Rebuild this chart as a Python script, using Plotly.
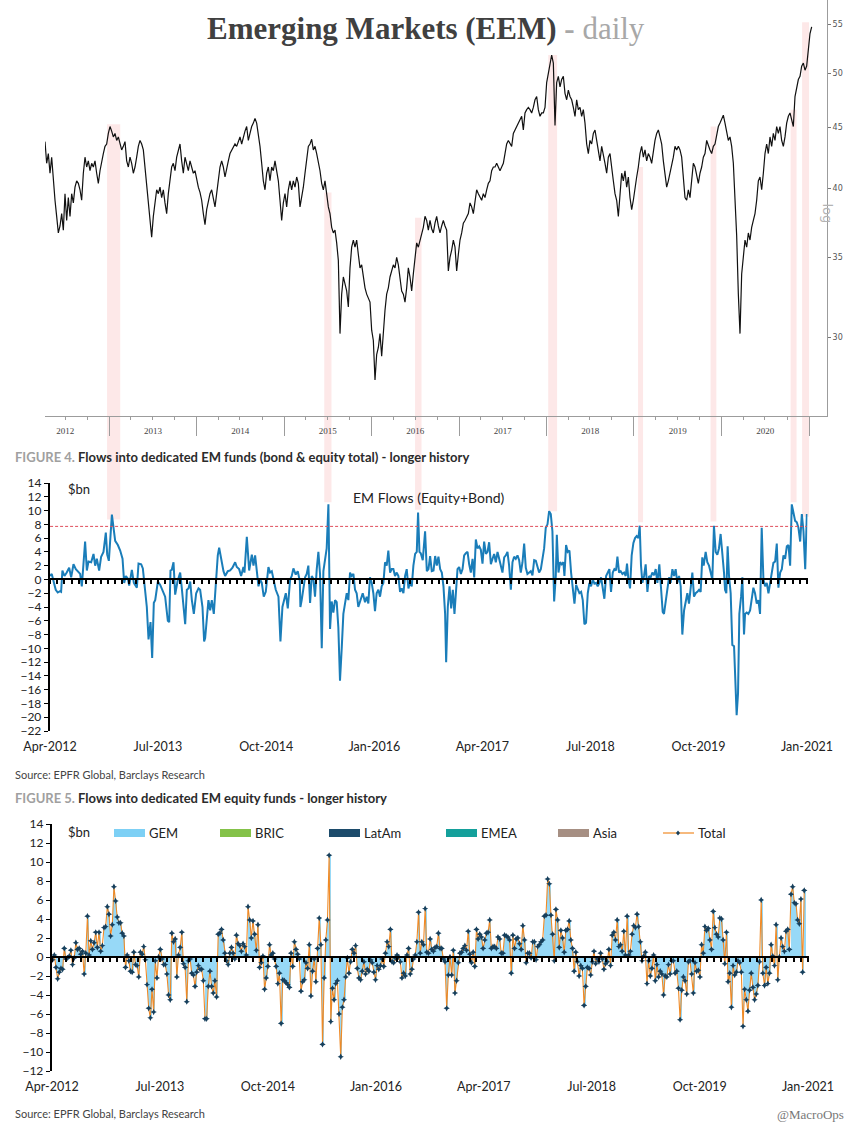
import numpy as np
import pandas as pd
import plotly.graph_objects as go

W, H = 851, 1127

# EEM, weekly closes (log scale)
eem_first, eem_last = "2012-04-08", "2021-01-12"
eem_close = [
    43.8, 42.0, 42.8, 41.2, 42.5, 40.6, 39.1, 37.9, 36.7, 37.2,
    38.1, 36.9, 39.6, 37.6, 39.3, 37.9, 39.6, 38.9, 40.1, 40.6,
    40.4, 39.9, 39.1, 41.2, 42.5, 41.7, 42.2, 41.4, 42.0, 41.7,
    42.2, 41.2, 40.4, 41.4, 42.2, 42.8, 43.4, 43.6, 44.5, 45.1,
    44.7, 44.2, 44.5, 43.9, 44.2, 43.6, 43.1, 43.4, 43.8, 42.2,
    41.7, 42.5, 42.0, 41.2, 41.7, 42.5, 43.4, 43.9, 43.6, 43.1,
    41.7, 40.6, 39.1, 37.6, 36.4, 37.9, 39.1, 39.9, 39.6, 40.1,
    39.3, 39.9, 38.9, 38.1, 39.6, 40.9, 41.7, 42.0, 41.4, 42.5,
    43.1, 43.6, 42.2, 41.2, 42.5, 42.0, 41.4, 42.2, 41.7, 41.2,
    41.4, 40.6, 40.1, 39.7, 39.1, 38.1, 37.3, 38.4, 39.1, 39.6,
    39.9, 39.1, 38.6, 39.6, 40.6, 41.7, 42.2, 41.7, 40.9, 41.7,
    42.2, 42.8, 43.1, 43.4, 43.6, 43.4, 43.9, 44.2, 43.6, 44.2,
    44.7, 45.1, 43.9, 44.5, 45.1, 45.4, 45.8, 45.4, 44.5, 43.4,
    42.0, 40.6, 39.9, 41.2, 41.7, 40.6, 41.7, 41.4, 42.2, 41.2,
    40.6, 39.1, 37.6, 38.9, 39.6, 38.6, 39.9, 40.6, 39.9, 40.6,
    40.1, 40.9, 40.4, 38.6, 39.3, 40.1, 41.2, 42.5, 43.4, 43.6,
    44.0, 43.1, 43.4, 42.8, 42.2, 41.4, 40.4, 39.9, 40.6, 39.6,
    38.6, 38.1, 37.1, 36.7, 36.9, 36.0, 34.8, 30.2, 32.6, 33.7,
    33.2, 32.8, 31.8, 34.3, 35.7, 36.2, 35.7, 36.2, 35.2, 34.3,
    34.5, 33.7, 33.0, 32.6, 32.3, 32.1, 30.4, 29.8, 27.6, 29.0,
    29.4, 30.2, 28.9, 30.4, 31.6, 32.6, 33.0, 33.7, 34.1, 34.5,
    34.3, 35.0, 34.5, 33.7, 32.8, 32.6, 32.1, 33.0, 34.3, 33.7,
    32.8, 33.9, 34.8, 36.0, 35.7, 36.2, 36.7, 37.1, 37.9, 37.6,
    36.9,
    37.6, 37.0, 36.7, 37.4, 37.9, 37.2, 36.7, 37.2, 37.6, 37.2,
    36.9, 34.1, 35.0, 35.5, 36.2, 35.7, 34.1, 35.2, 36.2, 36.7,
    37.4, 37.6, 37.9, 38.1, 38.9, 38.6, 38.1, 39.1, 39.9, 39.6,
    39.3, 39.1, 39.6, 39.3, 39.9, 40.4, 40.6, 41.4, 41.7, 41.7,
    42.0, 41.7, 41.4, 41.7, 42.0, 42.8, 43.6, 43.9, 43.6, 43.4,
    44.5, 44.8, 45.1, 45.4, 45.7, 46.0, 44.8, 46.3, 46.6, 46.8,
    46.6, 46.3, 46.8, 47.5, 47.8, 46.6, 46.0, 46.3, 46.3, 46.8,
    49.1, 50.0, 50.7, 51.8, 51.0, 45.2, 49.1, 49.7, 48.7, 49.4,
    49.7, 48.1, 47.5, 48.4, 47.8, 47.5, 46.8, 46.0, 47.5, 46.6,
    46.8, 46.0, 46.6, 45.4, 43.6, 42.8, 43.9, 43.6, 44.5, 44.8,
    43.9, 43.1, 42.2, 43.4, 42.5, 42.0, 41.2, 42.5, 42.8, 41.4,
    40.6, 39.6, 39.1, 37.9, 39.9, 41.2, 40.6, 41.4, 40.1, 40.9,
    39.3, 38.4, 39.1, 40.1, 40.9, 41.7, 42.8, 43.4, 42.5, 43.1,
    42.2, 42.8, 42.5, 42.0, 43.1, 43.9, 44.5, 44.8, 44.2, 43.6,
    42.2, 41.2, 40.1, 40.6, 41.2, 41.7, 42.5, 43.4, 43.1, 43.4,
    43.1, 42.5, 40.9, 39.3, 39.1, 39.9, 39.3, 40.6, 42.0, 41.7,
    40.9, 40.4, 41.2, 41.7, 42.5, 42.8, 43.9, 43.4, 43.1, 42.8,
    43.4, 43.6, 44.5, 45.1, 45.4, 45.7, 46.1, 45.4, 44.5, 43.9,
    44.2, 43.4, 42.0, 39.3, 36.5, 32.6, 30.2, 33.9, 35.2, 36.2,
    35.7, 36.7, 36.2, 37.1, 37.6, 38.1, 39.1, 40.6, 40.9, 39.9,
    41.2, 42.8, 43.6, 42.8, 44.2, 43.4, 44.5, 43.9, 45.1, 44.5,
    45.1, 43.9, 43.4, 44.2, 45.4, 46.0, 46.3, 45.7, 45.1, 47.8,
    48.7, 49.4, 49.7, 50.7, 51.0, 50.3, 50.7, 52.3, 54.0, 54.7,
]
eem_ticks = [30, 35, 40, 45, 50, 55]

# EM flows, equity + bond, $bn (x given as decimal years)
flow_year = [
    2012.250, 2012.269, 2012.315, 2012.338, 2012.365, 2012.377, 2012.392, 2012.416, 2012.442, 2012.470,
    2012.493, 2012.520, 2012.547, 2012.577, 2012.597, 2012.616, 2012.654, 2012.674, 2012.693, 2012.724,
    2012.751, 2012.770, 2012.789, 2012.816, 2012.839, 2012.866, 2012.893, 2012.909, 2012.928, 2012.963,
    2012.982, 2013.001, 2013.032, 2013.059, 2013.086, 2013.105, 2013.125, 2013.148, 2013.163, 2013.194,
    2013.217, 2013.252, 2013.271, 2013.302, 2013.321, 2013.340, 2013.367, 2013.387, 2013.410, 2013.429,
    2013.448, 2013.464, 2013.495, 2013.522, 2013.549, 2013.579, 2013.610, 2013.626, 2013.641, 2013.656,
    2013.676, 2013.695, 2013.722, 2013.753, 2013.772, 2013.811, 2013.830, 2013.849, 2013.869, 2013.888,
    2013.911, 2013.938, 2013.965, 2013.984, 2014.011, 2014.030, 2014.042, 2014.061, 2014.080, 2014.100,
    2014.119, 2014.142, 2014.158, 2014.188, 2014.204, 2014.227, 2014.254, 2014.273, 2014.304, 2014.331,
    2014.358, 2014.389, 2014.408, 2014.435, 2014.458, 2014.485, 2014.497, 2014.524, 2014.551, 2014.582,
    2014.601, 2014.620, 2014.639, 2014.659, 2014.678, 2014.697, 2014.720, 2014.743, 2014.774, 2014.793,
    2014.813, 2014.836, 2014.859, 2014.890, 2014.913, 2014.936, 2014.959, 2014.975, 2014.998, 2015.025,
    2015.044, 2015.063, 2015.090, 2015.113, 2015.137, 2015.144,
    2015.159, 2015.179, 2015.198, 2015.217, 2015.236, 2015.256, 2015.275, 2015.294, 2015.313, 2015.333,
    2015.352, 2015.371, 2015.391, 2015.410, 2015.429, 2015.448, 2015.468, 2015.487, 2015.506, 2015.525,
    2015.545, 2015.564, 2015.583, 2015.602, 2015.622, 2015.641, 2015.660, 2015.680, 2015.699, 2015.718,
    2015.737, 2015.757, 2015.776, 2015.795, 2015.814, 2015.841, 2015.865, 2015.892, 2015.911, 2015.930,
    2015.949, 2015.969, 2015.988, 2016.007, 2016.026, 2016.046, 2016.065, 2016.084, 2016.104, 2016.123,
    2016.142, 2016.161, 2016.181, 2016.200, 2016.219, 2016.238, 2016.258, 2016.277, 2016.296, 2016.315,
    2016.335, 2016.354, 2016.373, 2016.393, 2016.412, 2016.431, 2016.450, 2016.470, 2016.489, 2016.504,
    2016.520, 2016.535, 2016.558, 2016.585, 2016.605, 2016.624, 2016.643, 2016.662, 2016.682, 2016.701,
    2016.720, 2016.739, 2016.759, 2016.778, 2016.797, 2016.816, 2016.828, 2016.847, 2016.867, 2016.886,
    2016.905, 2016.924, 2016.944, 2016.959, 2016.978, 2016.998, 2017.017, 2017.036, 2017.055, 2017.075,
    2017.094, 2017.113, 2017.133, 2017.152, 2017.171, 2017.190, 2017.210, 2017.229, 2017.248, 2017.267,
    2017.287, 2017.306, 2017.325, 2017.345, 2017.364, 2017.383, 2017.402, 2017.422, 2017.441, 2017.460,
    2017.479, 2017.499, 2017.518, 2017.537, 2017.556, 2017.576, 2017.595, 2017.614, 2017.633, 2017.653,
    2017.672, 2017.691, 2017.711, 2017.730, 2017.749, 2017.768, 2017.788, 2017.807, 2017.826, 2017.846,
    2017.865, 2017.884, 2017.903, 2017.923, 2017.942, 2017.961, 2017.980, 2018.000, 2018.019, 2018.038,
    2018.057, 2018.077, 2018.096, 2018.108,
    2018.127, 2018.146, 2018.165, 2018.184, 2018.196, 2018.215, 2018.234, 2018.254, 2018.273, 2018.292,
    2018.312, 2018.331, 2018.350, 2018.369, 2018.389, 2018.408, 2018.427, 2018.446, 2018.466, 2018.485,
    2018.504, 2018.524, 2018.543, 2018.562, 2018.581, 2018.601, 2018.620, 2018.639, 2018.658, 2018.678,
    2018.697, 2018.716, 2018.735, 2018.755, 2018.774, 2018.793, 2018.809, 2018.828, 2018.847, 2018.867,
    2018.886, 2018.905, 2018.920, 2018.936, 2018.955, 2018.974, 2018.994, 2019.013, 2019.032, 2019.052,
    2019.067, 2019.082, 2019.098, 2019.117, 2019.136, 2019.156, 2019.175, 2019.194, 2019.213, 2019.233,
    2019.252, 2019.271, 2019.294, 2019.314, 2019.333, 2019.348, 2019.368, 2019.387, 2019.406, 2019.425,
    2019.445, 2019.464, 2019.483, 2019.502, 2019.522, 2019.541, 2019.560, 2019.580, 2019.599, 2019.618,
    2019.637, 2019.657, 2019.676, 2019.695, 2019.714, 2019.734, 2019.753, 2019.772, 2019.791, 2019.807,
    2019.830, 2019.849, 2019.869, 2019.888, 2019.907, 2019.926, 2019.946, 2019.965, 2019.984, 2020.003,
    2020.023, 2020.042, 2020.054, 2020.069, 2020.084, 2020.100, 2020.119, 2020.138, 2020.158, 2020.173,
    2020.188, 2020.204, 2020.219, 2020.239, 2020.254, 2020.273, 2020.285, 2020.304, 2020.323, 2020.343,
    2020.362, 2020.381, 2020.400, 2020.420, 2020.439, 2020.458, 2020.477, 2020.497, 2020.516, 2020.535,
    2020.555, 2020.574, 2020.593, 2020.612, 2020.632, 2020.651, 2020.670, 2020.690, 2020.709, 2020.728,
    2020.747, 2020.767, 2020.786, 2020.805, 2020.824, 2020.844, 2020.863, 2020.882, 2020.901, 2020.921,
    2020.940, 2020.959, 2020.979, 2020.998,
]
flow_bn = [
    0.5, 0.8, -1.5, -1.9, -1.7, -1.8, 1.3, 0.5, 1.0, 1.7,
    0.3, 2.2, 1.5, 1.0, 0.8, -1.0, 5.5, 1.3, 2.6, 2.5,
    3.7, 2.0, 3.0, 1.3, 3.3, 4.0, 6.8, 3.6, 2.7, 9.4,
    7.0, 5.6, 5.0, 4.2, 3.0, -0.5, 0.5, 0.1, -0.9, 1.4,
    -0.5, -1.2, 2.3, 2.2, 1.6, -1.0, -4.0, -8.7, -6.2, -11.4,
    -3.4, -3.0, -0.3, -0.8, -1.5, -2.5, -6.0, -6.2, 1.3, 1.4,
    2.5, -2.2, -0.3, 1.0, -1.3, -6.5, -1.5, -1.3, -0.3, -3.0,
    -5.0, -2.0, -1.3, -1.5, -4.0, -9.0, -8.5, -5.0, -3.0, -4.5,
    -3.0, -5.0, -2.0, 3.5, 4.6, 3.0, 1.2, 0.5, 1.2, 1.3,
    1.7, 2.5, 1.8, 1.5, 0.5, 1.8, 1.0, 6.2, 1.3, 3.6,
    2.0, 3.5, 1.0, -1.0, 0.0, -0.5, -2.5, -1.8, 1.8, 1.0,
    1.2, -0.3, -1.5, -2.5, -9.0, -4.0, -2.7, -2.0, -4.2, 0.0,
    0.5, 1.6, 0.7, 1.2, -0.2, -4.0,
    -3.0, -1.0, 0.3, 0.8, 2.0, -3.4, 0.5, 0.1, -2.5, 1.5,
    4.0, 0.8, -10.0, 1.2, 3.0, 4.5, 10.9, -7.2, -3.2, -4.8,
    -3.0, -3.3, -7.0, -14.7, -10.0, -5.0, -3.5, -2.0, -3.0, 1.0,
    0.5, 0.8, -1.5, -2.0, -4.0, -3.0, -2.0, -3.3, -2.5, -3.5,
    0.3, -0.5, -2.0, -4.6, -2.0, -1.5, -2.5, -1.0, -0.5, 2.5,
    2.0, 4.2, 1.0, 1.5, 1.5, 0.5, 1.0, 0.5, -1.8, -1.3,
    -2.0, 0.5, 1.5, -1.3, -0.3, -1.0, 2.0, 3.7, 4.0, 9.7,
    4.0, 3.8, 2.8, 7.0, 1.2, 1.5, 3.4, 1.2, 1.3, 3.4,
    2.0, 3.3, 1.5, 1.0, -1.0, -5.0, -12.0, -4.0, -1.0, -4.2,
    -1.5, -5.0, -2.0, 1.5, 1.8, 0.8, 1.5, 3.5, 3.8, 4.0,
    2.2, 1.0, 3.0, 0.3, 5.8, 4.5, 4.8, 4.3, 2.3, 5.5,
    3.7, 4.0, 5.4, 2.2, 3.0, 3.7, 2.5, 4.0, 3.0, 2.0,
    1.0, 3.2, 3.5, 4.0, 2.0, -1.5, 2.5, 3.3, 3.0, 3.5,
    2.8, 1.0, 2.5, 5.2, 1.7, 0.8, 1.0, 1.2, 0.6, 2.8,
    2.7, 2.0, 1.0, 1.5, 3.3, 4.5, 7.5, 8.0, 9.9, 9.5,
    7.0, -3.2, 0.5, 6.5,
    1.0, 2.5, 2.2, 2.5, 0.5, 5.0, 4.0, 4.2, 1.0, -1.0,
    -3.5, -0.8, -1.5, -2.0, -1.8, -3.0, -6.5, -6.3, -2.0, -0.5,
    -1.0, 0.0, -0.6, -0.5, -1.0, -0.5, 0.3, -1.0, -2.8, 0.5,
    1.0, 1.5, -1.8, 1.0, 1.5, 1.3, 3.3, 1.0, 1.2, 0.8,
    1.0, 0.5, 2.3, 0.0, -1.3, 3.5, 5.3, 6.0, 6.3, 6.0,
    7.8, 2.0, -0.5, 0.5, 2.2, -1.8, 0.5, 0.3, 1.0, 0.6,
    1.5, -0.5, 2.2, -2.0, -4.7, -5.0, -3.0, -1.5, 0.3, -0.5,
    1.5, 0.5, 1.5, -0.5, 0.5, -1.0, -8.0, -4.5, -3.0, -2.0,
    -3.5, -1.0, 1.0, -2.5, -2.0, -1.8, -1.5, -1.8, 3.2, 2.0,
    4.0, 2.5, 2.0, 1.0, 0.0, 7.8, 4.0, 3.6, 4.5, 6.6,
    4.0, 1.0, -1.5, -2.0, 4.8, 0.5, -2.0, -9.5, -9.7, -15.0,
    -19.7, -16.5, -5.0, -2.5, 0.3, -8.0, -5.0, -4.8, -5.0, -4.5,
    -2.5, -1.2, -2.0, -3.5, -3.0, -5.0, 7.5, 0.0, -1.0, -0.5,
    -2.0, -0.5, 0.5, 2.4, 2.6, 5.2, -1.2, 1.0, 1.5, 3.5,
    3.0, 4.8, 5.0, 2.0, 10.9, 9.8, 8.5, 8.3, 7.5, 5.5,
    9.5, 7.0, 1.5, 9.5,
]
flow_alert_level = 7.7

# EM equity fund flows, weekly, $bn
eq_first = "2012-04-04"
eq_total = [
    -0.3, 0.2, -1.1, -2.3, -1.6, -1.2, -1.3, 0.9, -0.2, -0.1,
    0.1, 0.7, -0.8, -0.1, 1.5, 0.8, 0.9, 0.3, 0.6, -1.8,
    0.4, 4.3, 0.2, 1.7, 0.8, 1.5, 2.6, 1.0, 2.6, 0.6,
    1.2, 3.1, 3.2, 5.3, 4.5, 2.2, 3.4, 7.4, 5.9, 4.2,
    3.6, 3.6, 2.5, 2.2, -1.1, 0.2, -0.4, -1.5, -1.6, 0.5,
    -0.8, -0.9, -2.1, 0.5, 0.3, 1.1, -0.3, -2.9, -5.4, -6.4,
    -3.4, -5.8, -0.4, -2.2, 0.0, 0.8, -0.2, -0.8, -0.8, -1.8,
    -4.0, -4.5, 2.5, 1.6, 1.9, -2.1, 0.2, 1.0, 2.6, -0.7,
    -1.1, -4.7, -0.4, -0.2, -1.7, -1.9, -3.1, -1.6, -0.9, -1.3,
    -1.3, -2.5, -6.5, -6.5, -3.1, -1.5, -3.1, -3.8, -2.5, -4.2,
    2.4, 2.5, 2.9, 1.8, 0.4, -0.4, -0.8, 0.4, 1.0, 0.4,
    -0.2, 2.3, 1.4, 1.2, 0.6, 1.4, 1.1, 0.2, 5.3, 3.9,
    2.0, 3.8, 2.4, 0.7, 3.4, -1.1, -0.6, 0.1, -3.4, -2.2,
    -1.0, 1.3, 0.2, 0.4, -0.2, -1.0, -2.8, -1.7, -7.0, -2.4,
    -2.5, -2.7, -2.9, -3.2, 0.4, -1.0, 1.6, 0.8, 0.3, -0.2,
    -3.6, -2.6,
    -2.4, -0.6, -1.2, 1.3, -4.1, -1.5, -0.2, -2.6, 0.9, 4.1,
    1.3, -9.2, -2.2, 1.8, 3.9, 10.7, -6.8, -3.3, -4.5, -2.8,
    -2.5, -6.0, -10.5, -5.3, -4.5, -2.1, -0.1, -1.7, -0.5, 0.8,
    0.4, 1.2, -1.2, -2.2, -2.4, -1.5, -0.5, -1.8, -1.3, -1.5,
    -0.3, -0.6, -1.6, -2.4, -0.9, -1.3, -0.9, -0.2, -1.0, 0.4,
    1.6, 1.1, 2.9, -0.5, -0.6, -0.1, 0.2, 0.0, -0.5, -2.2,
    -1.7, -2.0, 0.2, 0.9, -1.8, -1.3, -0.2, 0.2, 1.6, 4.7,
    0.4, 1.6, 1.3, 5.1, 0.5, 0.4, 1.9, 0.8, 0.6, 1.0,
    1.1, 2.5, 0.9, 0.9, -0.2, -0.5, -5.4, -1.9, 0.0, -1.9,
    0.7, -3.8, -2.5, -0.6, 0.4, 0.5, 0.9, 1.2, 0.7, 2.7,
    0.3, -0.6, 0.5, -1.0, 2.9, 1.9, 2.4, 2.1, 0.9, 1.8,
    2.5, 2.6, 3.9, 0.9, 1.1, 1.1, 0.9, 2.1, 1.9, 0.4,
    0.4, 2.3, 2.2, 2.1, 1.8, -1.7, 2.3, 0.9, 1.9, 2.0,
    1.4, 0.8, 3.3, 1.8, -0.6, 0.4, 0.4, -0.1, 1.6, 1.6,
    -0.3, 1.1, 1.3, 1.6, 1.8, 4.3, 4.4, 8.2, 7.7, 4.4,
    2.4, -0.4, 5.0, 3.9,
    1.0, 2.8, 2.0, 0.5, 2.8, 2.9, 3.8, 1.8, 0.9, -1.5,
    0.5, -0.5, -2.0, -0.9, -1.2, -5.1, -3.1, -1.1, -1.2, -1.9,
    -0.5, 0.6, -0.7, -0.2, -0.5, 0.4, -0.2, -1.3, -0.7, -0.5,
    0.8, -0.9, 2.3, 2.6, 1.8, 3.9, 1.1, 1.3, 0.6, 2.7,
    0.2, 4.3, 0.2, 0.6, 2.4, 3.3, 3.1, 4.5, 3.2, 1.6,
    -0.4, 0.1, 0.5, -2.8, -0.4, -2.0, -1.2, 0.2, -2.5, -0.8,
    -2.1, -1.5, -1.8, -4.0, -2.0, -2.1, -0.8, -1.8, -0.4, -0.4,
    -1.7, -1.5, -3.3, -6.6, -3.5, -2.1, -2.5, -3.9, -0.5, -0.4,
    -1.8, -3.8, -0.6, -1.5, -1.4, -2.1, 1.3, 0.4, 3.2, 2.8,
    3.0, 1.8, 0.8, 4.8, 3.1, 2.4, 2.1, 4.1, 4.0, 1.8,
    -0.7, 2.6, -2.6, -1.7, -5.3, -0.9, -1.9, -1.6, -0.4, -0.6,
    -1.6, -7.3, -3.4, -4.5, -5.7, -3.5, -1.7, -3.2, -4.5, -3.9,
    -3.0, -0.5, 6.0, -1.7, -3.0, -1.1, -2.8, -1.7, 1.3, 0.1,
    -0.9, 3.4, -2.4, 0.0, 2.0, 1.1, 0.6, 2.7, 2.9, 0.8,
    6.6, 7.4, 5.7, 5.6, 3.9, 3.5, 6.1, -1.6, 7.0,
]
# GEM funds make up nearly all of the bars; read at the same heights as the total
eq_gem = list(eq_total)

legend_names = ["GEM", "BRIC", "LatAm", "EMEA", "Asia"]
legend_colors = ["#7dd0f5", "#84c249", "#1c4b6b", "#14a09b", "#a68f83"]

# highlighted episodes: start, end, price where band starts, flow level where it ends
band_from = ["2012-12-23", "2015-06-18", "2016-07-01", "2018-01-08",
             "2019-01-18", "2019-11-17", "2020-10-16", "2020-12-03"]
band_to = ["2013-02-16", "2015-07-18", "2016-07-28", "2018-02-14",
           "2019-02-08", "2019-12-11", "2020-11-10", "2021-01-01"]
band_price = [45.3, 39.7, 37.8, 51.8, 41.7, 45.1, 46.6, 55.2]
band_flow = [8.7, 11.2, 10.1, 9.9, 8.3, 8.4, 11.2, 9.1]


def from_decimal_year(t):
    year = int(t)
    start = pd.Timestamp(year=year, month=1, day=1)
    days = (pd.Timestamp(year=year + 1, month=1, day=1) - start).days
    return start + pd.Timedelta(days=(t - year) * days)


def fx(px):
    return px / W


def fy(px):
    return 1 - px / H


eem_dates = pd.date_range(eem_first, eem_last, periods=len(eem_close))
flow_dates = [from_decimal_year(t) for t in flow_year]
eq_dates = pd.date_range(eq_first, periods=len(eq_total), freq="7D")

# layout geometry (pixels)
LOG_RANGE = [1.4107, 1.7606]
MID_RANGE = [-22, 14]
BOT_RANGE = [-12, 14]
top_dom = [fy(416), 1.0]
mid_dom = [fy(731), fy(483)]
bot_dom = [fy(1071), fy(824)]
mid_zero = mid_dom[0] + (0 - MID_RANGE[0]) / (MID_RANGE[1] - MID_RANGE[0]) * (mid_dom[1] - mid_dom[0])
bot_zero = bot_dom[0] + (0 - BOT_RANGE[0]) / (BOT_RANGE[1] - BOT_RANGE[0]) * (bot_dom[1] - bot_dom[0])
flow_range = ["2012-03-30", "2021-01-03"]

SANS = "Lato"
SERIF = "Liberation Serif"

fig = go.Figure()

fig.add_trace(go.Scatter(
    x=eem_dates, y=eem_close, mode="lines",
    line=dict(color="#111111", width=1.2),
    xaxis="x", yaxis="y", hoverinfo="skip",
))

fig.add_trace(go.Scatter(
    x=flow_dates, y=flow_bn, mode="lines",
    line=dict(color="#1a7db9", width=2),
    xaxis="x2", yaxis="y2", hoverinfo="skip",
))
fig.add_trace(go.Scatter(
    x=[flow_dates[0], flow_dates[-1]], y=[flow_alert_level, flow_alert_level], mode="lines",
    line=dict(color="#e0505c", width=1, dash="3px,2px"),
    xaxis="x3", yaxis="y2", hoverinfo="skip",
))

fig.add_trace(go.Bar(
    x=eq_dates, y=eq_gem, width=4 * 86400000,
    marker=dict(color=legend_colors[0], line_width=0), opacity=0.8,
    xaxis="x4", yaxis="y3", hoverinfo="skip",
))
fig.add_trace(go.Scatter(
    x=eq_dates, y=eq_total, mode="lines+markers",
    line=dict(color="#f08a26", width=1.1),
    marker=dict(symbol="star-diamond", size=4.5, color="#163f5c"),
    xaxis="x5", yaxis="y3", hoverinfo="skip",
))

# pink bands linking price moves to flow peaks
shapes = []
for x0, x1, p, f in zip(band_from, band_to, band_price, band_flow):
    y_top = top_dom[0] + (np.log10(p) - LOG_RANGE[0]) / (LOG_RANGE[1] - LOG_RANGE[0]) * (top_dom[1] - top_dom[0])
    y_bot = mid_dom[0] + (f - MID_RANGE[0]) / (MID_RANGE[1] - MID_RANGE[0]) * (mid_dom[1] - mid_dom[0])
    shapes.append(dict(type="rect", xref="x", yref="paper", x0=x0, x1=x1, y0=y_bot, y1=y_top,
                       fillcolor="rgba(248,190,190,0.35)", line_width=0, layer="below"))

# legend for figure 5
legend_left = [114, 220, 329, 446, 558]
for left, name, color in zip(legend_left, legend_names, legend_colors):
    shapes.append(dict(type="rect", xref="paper", yref="paper", x0=fx(left), x1=fx(left + 31),
                       y0=fy(837), y1=fy(829), fillcolor=color, line_width=0))
shapes.append(dict(type="line", xref="paper", yref="paper", x0=fx(663), x1=fx(694),
                   y0=fy(833), y1=fy(833), line=dict(color="#f08a26", width=1.2)))
shapes.append(dict(type="path", xref="paper", yref="paper",
                   path=f"M {fx(678)} {fy(830.5)} L {fx(680)} {fy(833)} L {fx(678)} {fy(835.5)} L {fx(676)} {fy(833)} Z",
                   fillcolor="#163f5c", line_width=0))

annotations = [
    dict(x=0.5, y=fy(29), xref="paper", yref="paper", showarrow=False, xanchor="center", yanchor="middle",
         text="<b>Emerging Markets (EEM)</b> <span style='color:#a8a8a8'><b>-</b> daily</span>",
         font=dict(family=SERIF, size=31, color="#404040")),
    dict(x=fx(837), y=fy(201), xref="paper", yref="paper", showarrow=False, textangle=90,
         text="log", font=dict(family="DejaVu Sans", size=13, color="#b4b4b4")),
    dict(x=fx(13), y=fy(457), xref="paper", yref="paper", showarrow=False, xanchor="left", yanchor="middle",
         text="<b><span style='color:#a0a0a0'>FIGURE 4.</span> Flows into dedicated EM funds (bond &amp; equity total) - longer history</b>",
         font=dict(family=SANS, size=13, color="#2b2b2b")),
    dict(x=fx(66), y=fy(489), xref="paper", yref="paper", showarrow=False, xanchor="left", yanchor="middle",
         text="$bn", font=dict(family=SANS, size=13, color="#222222")),
    dict(x=fx(429), y=fy(497), xref="paper", yref="paper", showarrow=False, xanchor="center", yanchor="middle",
         text="EM Flows (Equity+Bond)", font=dict(family=SANS, size=14, color="#222222")),
    dict(x=fx(13), y=fy(774), xref="paper", yref="paper", showarrow=False, xanchor="left", yanchor="middle",
         text="Source: EPFR Global, Barclays Research", font=dict(family=SANS, size=11, color="#444444")),
    dict(x=fx(13), y=fy(798), xref="paper", yref="paper", showarrow=False, xanchor="left", yanchor="middle",
         text="<b><span style='color:#a0a0a0'>FIGURE 5.</span> Flows into dedicated EM equity funds - longer history</b>",
         font=dict(family=SANS, size=13, color="#2b2b2b")),
    dict(x=fx(66), y=fy(832), xref="paper", yref="paper", showarrow=False, xanchor="left", yanchor="middle",
         text="$bn", font=dict(family=SANS, size=13, color="#222222")),
    dict(x=fx(13), y=fy(1113), xref="paper", yref="paper", showarrow=False, xanchor="left", yanchor="middle",
         text="Source: EPFR Global, Barclays Research", font=dict(family=SANS, size=11, color="#444444")),
    dict(x=fx(846), y=fy(1114), xref="paper", yref="paper", showarrow=False, xanchor="right", yanchor="middle",
         text="@MacroOps", font=dict(family=SERIF, size=13, color="#777777")),
]
for left, name in zip(legend_left + [663], legend_names + ["Total"]):
    annotations.append(dict(x=fx(left + 33), y=fy(833), xref="paper", yref="paper", showarrow=False,
                            xanchor="left", yanchor="middle", text=name,
                            font=dict(family=SANS, size=13, color="#222222")))

tick_font = dict(family=SANS, size=12, color="#222222")
date_font = dict(family=SANS, size=12.5, color="#222222")

fig.update_layout(
    width=W, height=H, autosize=False,
    margin=dict(l=0, r=0, t=0, b=0),
    paper_bgcolor="white", plot_bgcolor="white",
    showlegend=False, bargap=0,
    shapes=shapes, annotations=annotations,
    xaxis=dict(
        domain=[fx(45), fx(827)], anchor="y", type="date", automargin=False,
        range=["2012-04-08", "2021-03-17"],
        showline=True, linecolor="#9c9c9c", linewidth=1,
        ticks="outside", ticklen=19, tickcolor="#9c9c9c",
        dtick="M12", tick0="2012-01-01", tickformat="%Y", ticklabelmode="period",
        ticklabelstandoff=-13,
        tickfont=dict(family=SERIF, size=9, color="#444444"),
        minor=dict(dtick="M3", ticks="outside", ticklen=3, tickcolor="#9c9c9c"),
        showgrid=False, zeroline=False,
    ),
    yaxis=dict(
        domain=top_dom, anchor="x", type="log", range=LOG_RANGE, side="right", automargin=False,
        tickvals=eem_ticks, ticks="outside", ticklen=3, tickcolor="#777777",
        showline=True, linecolor="#9c9c9c",
        tickfont=dict(family="DejaVu Sans", size=8, color="#555555"),
        showgrid=False, zeroline=False,
    ),
    xaxis2=dict(
        domain=[fx(49.5), fx(807.5)], anchor="free", position=mid_zero, type="date", range=flow_range,
        automargin=False, showline=True, linecolor="black", linewidth=2,
        ticks="outside", ticklen=4, tickwidth=1.5, tickcolor="black",
        dtick="M1", tick0="2012-04-01", showticklabels=False,
        showgrid=False, zeroline=False,
    ),
    xaxis3=dict(
        overlaying="x2", anchor="free", position=fy(737), type="date", range=flow_range,
        automargin=False, showline=False, ticks="", dtick="M15", tick0="2012-04-01", tickformat="%b-%Y",
        tickfont=date_font, showgrid=False, zeroline=False,
    ),
    yaxis2=dict(
        domain=mid_dom, anchor="x2", range=MID_RANGE, dtick=2, automargin=False,
        ticks="outside", ticklen=4, tickcolor="black",
        showline=True, linecolor="black", linewidth=1.5,
        tickfont=tick_font, showgrid=False, zeroline=False,
    ),
    xaxis4=dict(
        domain=[fx(51.5), fx(808.5)], anchor="free", position=bot_zero, type="date", range=flow_range,
        automargin=False, showline=True, linecolor="black", linewidth=2,
        ticks="outside", ticklen=4, tickwidth=1.5, tickcolor="black",
        dtick="M1", tick0="2012-04-01", showticklabels=False,
        showgrid=False, zeroline=False,
    ),
    xaxis5=dict(
        overlaying="x4", anchor="free", position=fy(1077), type="date", range=flow_range,
        automargin=False, showline=False, ticks="", dtick="M15", tick0="2012-04-01", tickformat="%b-%Y",
        tickfont=date_font, showgrid=False, zeroline=False,
    ),
    yaxis3=dict(
        domain=bot_dom, anchor="x4", range=BOT_RANGE, dtick=2, automargin=False,
        ticks="outside", ticklen=4, tickcolor="black",
        showline=True, linecolor="black", linewidth=1.5,
        tickfont=tick_font, showgrid=False, zeroline=False,
    ),
)

# the page body has a default margin; drop it so the chart sits at the window origin
fig.write_html("out.html", config={"displayModeBar": False},
               post_script="document.body.style.margin='0';document.body.style.overflow='hidden';")
